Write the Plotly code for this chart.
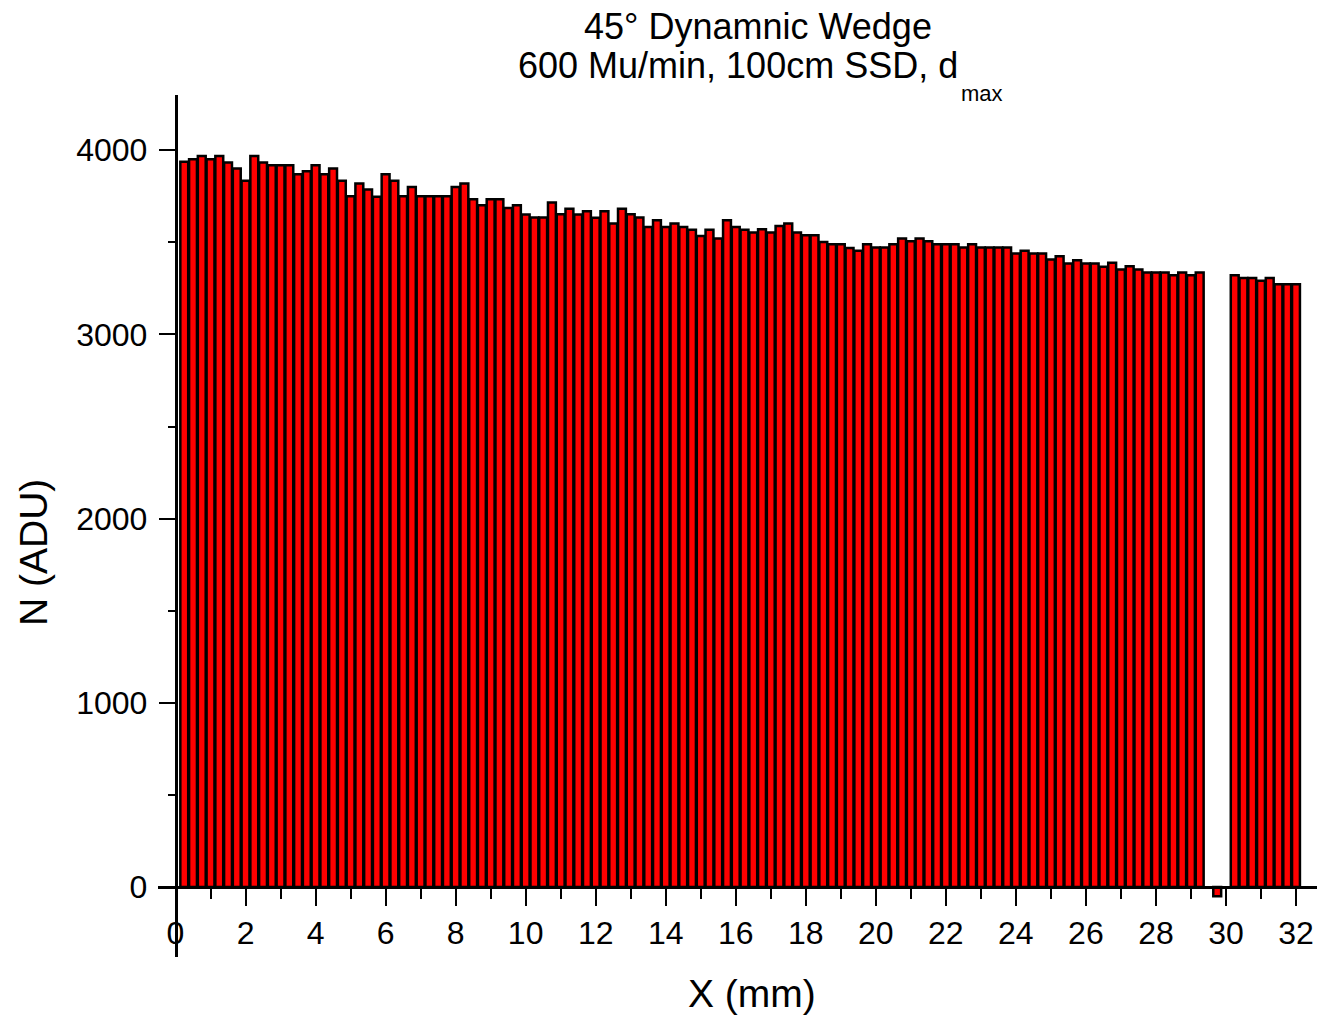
import plotly.graph_objects as go

# ---- data ----
x_mm = [0.25 * (i + 1) for i in range(128)]  # bin centres 0.25 ... 32.0 mm
counts = [
    # 0.25 .. 8.0
    3937, 3951, 3969, 3951, 3969, 3933, 3901, 3834, 3969, 3933, 3919, 3919, 3919, 3870, 3886, 3919,
    3870, 3901, 3834, 3750, 3819, 3787, 3747, 3870, 3834, 3750, 3801, 3750, 3750, 3750, 3750, 3801,
    # 8.25 .. 16.0
    3819, 3734, 3702, 3734, 3734, 3687, 3702, 3651, 3635, 3635, 3716, 3652, 3683, 3651, 3669, 3633,
    3669, 3602, 3683, 3652, 3635, 3584, 3620, 3584, 3602, 3584, 3569, 3535, 3569, 3521, 3620, 3584,
    # 16.25 .. 24.0
    3569, 3553, 3571, 3553, 3589, 3602, 3553, 3539, 3539, 3502, 3490, 3490, 3470, 3454, 3490, 3472,
    3472, 3490, 3521, 3506, 3521, 3506, 3490, 3490, 3490, 3472, 3490, 3472, 3472, 3472, 3472, 3439,
    # 24.25 .. 29.25
    3454, 3439, 3439, 3407, 3425, 3385, 3403, 3385, 3385, 3367, 3389, 3352, 3370, 3352, 3336, 3336,
    3336, 3322, 3336, 3322, 3336,
    # 29.5 .. 30.0
    None, -50, None,
    # 30.25 .. 32.0
    3322, 3307, 3307, 3291, 3307, 3273, 3273, 3273,
]

title_line1 = "45° Dynamnic Wedge"
title_line2 = "600 Mu/min, 100cm SSD, d"
title_sub = "max"
x_title = "X (mm)"
y_title = "N (ADU)"

# ---- layout geometry ----
W, H = 1317, 1017
ML, MR, MT, MB = 158, 0, 95, 60
X_RANGE = [-0.5, 32.6]
Y_RANGE = [-380, 4300]
FONT = "Liberation Sans, Arial, sans-serif"


def px_x(px):
    return (px - ML) / (W - ML - MR)


def px_y(py):
    return (H - MB - py) / (H - MT - MB)


fig = go.Figure(
    go.Bar(
        x=x_mm,
        y=counts,
        marker=dict(color="#ff0000", line=dict(color="black", width=2.5)),
        showlegend=False,
    )
)

x_pos = -Y_RANGE[0] / (Y_RANGE[1] - Y_RANGE[0])
y_pos = -X_RANGE[0] / (X_RANGE[1] - X_RANGE[0])

fig.update_layout(
    width=W,
    height=H,
    margin=dict(l=ML, r=MR, t=MT, b=MB, autoexpand=False),
    paper_bgcolor="white",
    plot_bgcolor="white",
    bargap=0.1,
    font=dict(family=FONT, color="black"),
    xaxis=dict(
        range=X_RANGE,
        anchor="free",
        position=x_pos,
        showline=True,
        linecolor="black",
        linewidth=2.5,
        showgrid=False,
        zeroline=False,
        ticks="outside",
        ticklen=17,
        tickwidth=2.2,
        tickcolor="black",
        tickmode="linear",
        tick0=0,
        dtick=2,
        tickfont=dict(size=32, family=FONT, color="black"),
        minor=dict(ticks="outside", ticklen=10, tickwidth=2.2, tickcolor="black", dtick=1, tick0=0, showgrid=False),
    ),
    yaxis=dict(
        range=Y_RANGE,
        anchor="free",
        position=y_pos,
        showline=True,
        linecolor="black",
        linewidth=2.5,
        showgrid=False,
        zeroline=False,
        ticks="outside",
        ticklen=16,
        tickwidth=2.2,
        tickcolor="black",
        tickmode="linear",
        tick0=0,
        dtick=1000,
        ticklabelstandoff=5,
        tickfont=dict(size=32, family=FONT, color="black"),
        minor=dict(ticks="outside", ticklen=7, tickwidth=2.2, tickcolor="black", dtick=500, tick0=0, showgrid=False),
    ),
)

annotations = [
    dict(text=title_line1, x=px_x(758), y=px_y(47), xanchor="center", yanchor="bottom",
         font=dict(size=36)),
    dict(text=title_line2, x=px_x(958), y=px_y(86), xanchor="right", yanchor="bottom",
         font=dict(size=36)),
    dict(text=title_sub, x=px_x(961), y=px_y(106), xanchor="left", yanchor="bottom",
         font=dict(size=22)),
    dict(text=x_title, x=px_x(752), y=px_y(1015), xanchor="center", yanchor="bottom",
         font=dict(size=39)),
    dict(text=y_title, x=px_x(33), y=px_y(552), xanchor="center", yanchor="middle",
         textangle=-90, font=dict(size=39)),
]
for a in annotations:
    a.update(xref="paper", yref="paper", showarrow=False, borderpad=0, borderwidth=0)
    a["font"].update(family=FONT, color="black")
fig.update_layout(annotations=annotations)

fig.write_html("out.html")
